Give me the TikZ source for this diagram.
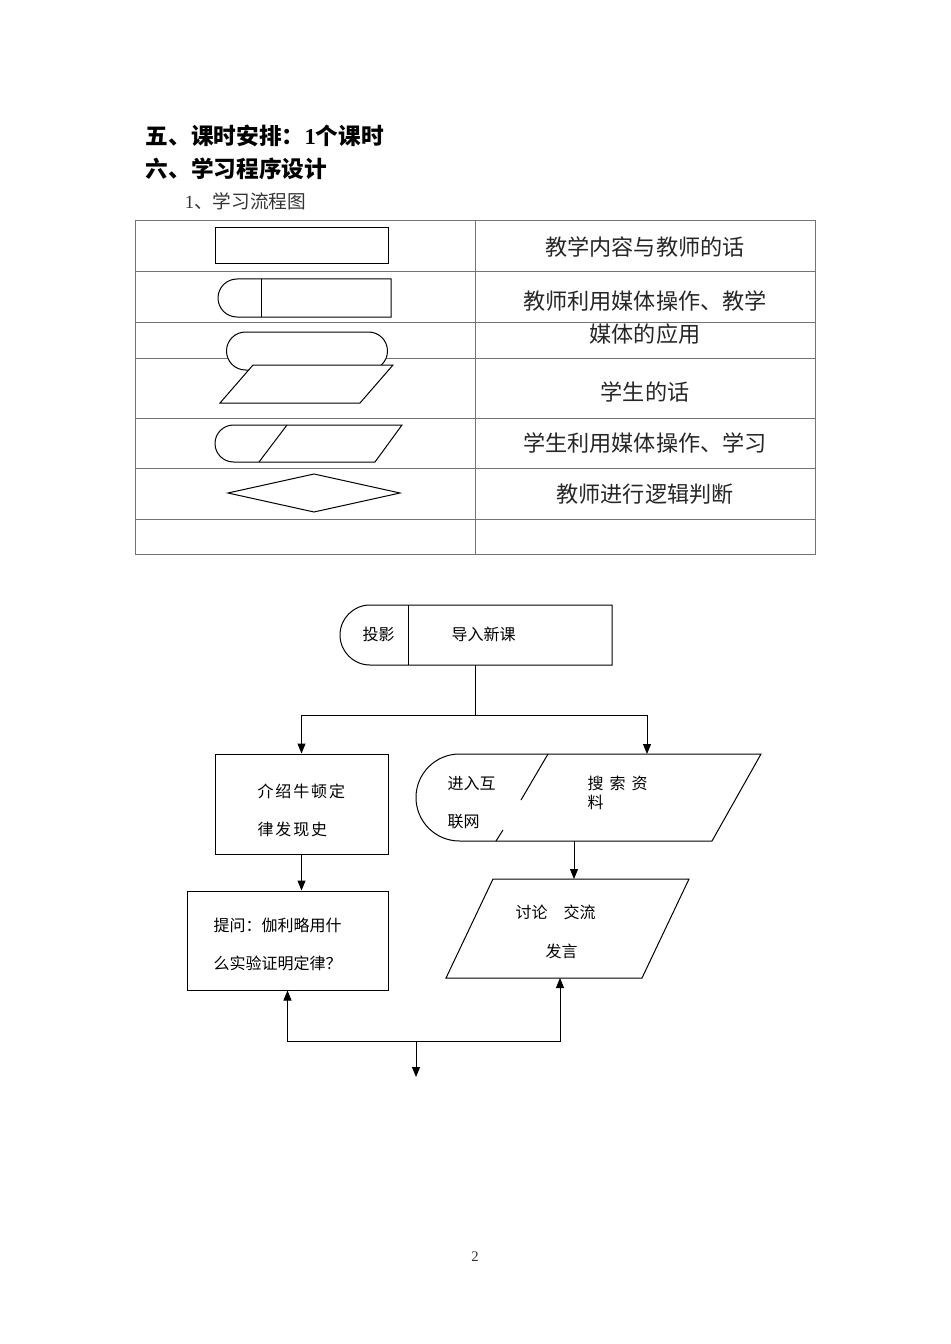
\documentclass[tikz,border=0pt]{standalone}
\usepackage{fontspec}
\setmainfont{Liberation Serif}
\newfontfamily\cjk{Noto Sans CJK SC}
\newfontfamily\cjkwide[LetterSpace=12]{Noto Sans CJK SC}
\usetikzlibrary{arrows.meta}

\begin{document}
\begin{tikzpicture}[x=0.75pt, y=-0.75pt, line width=0.75pt,
  >={Triangle[length=7.5pt, width=6pt]},
  cell/.style={draw=black!55, line width=0.6pt},
  legend/.style={font=\fontsize{16.6}{19}\selectfont\cjk, text=black!85},
  flowtxt/.style={anchor=west, inner sep=0pt, font=\fontsize{12}{14}\selectfont\cjk},
  box/.style={draw, inner sep=0pt}]

\useasboundingbox (0,0) rectangle (950,1344);

% --- Headings ---
\node[anchor=west, font=\fontsize{17}{20}\selectfont\cjk\bfseries] (head5) at (141,136) {五、课时安排：{\rmfamily 1}个课时};
\node[anchor=west, font=\fontsize{17}{20}\selectfont\cjk\bfseries] (head6) at (141,169) {六、学习程序设计};
\node[anchor=west, font=\fontsize{14}{16}\selectfont\cjk, text=black!80] (sub1) at (180,201) {{\rmfamily 1}、学习流程图};

% --- Legend table ---
\draw[cell] (135,220) rectangle (815,554);
\draw[cell] (475,220) -- (475,554);
\foreach \y in {271,322,358,418,468,519}
  \draw[cell] (135,\y) -- (815,\y);

% symbols
\draw (215,228) rectangle (388,264);
\draw (237,279) -- (391,279) -- (391,317) -- (237,317) arc[start angle=270, end angle=90, radius=14.25pt] -- cycle;
\draw (261,279) -- (261,317);
\draw[fill=white] (245.5,332) -- (368.5,332) arc[start angle=90, end angle=-90, radius=14.25pt] -- (245.5,370) arc[start angle=270, end angle=90, radius=14.25pt] -- cycle;
\draw[fill=white] (253,365) -- (393,365) -- (360,403) -- (220,403) -- cycle;
\draw (233.5,425) -- (402,425) -- (375,462) -- (233.5,462) arc[start angle=270, end angle=90, radius=13.875pt] -- cycle;
\draw (287,425) -- (259,462);
\draw (228,493) -- (314,474) -- (400,493) -- (314,512) -- cycle;

% meanings
\node[legend] (leg1) at (645,247) {教学内容与教师的话};
\node[legend] (leg2) at (645,301) {教师利用媒体操作、教学};
\node[legend] (leg2b) at (645,334) {媒体的应用};
\node[legend] (leg4) at (645,392) {学生的话};
\node[legend] (leg5) at (645,443) {学生利用媒体操作、学习};
\node[legend] (leg6) at (645,494) {教师进行逻辑判断};

% --- Flow chart ---
% intro (media + teacher)
\draw (370,605) -- (612,605) -- (612,665) -- (370,665) arc[start angle=270, end angle=90, radius=22.5pt] -- cycle;
\draw (408,605) -- (408,665);
\node[flowtxt] (introL) at (362,634) {投影};
\node[flowtxt] (introR) at (451,634) {导入新课};
\coordinate (intro-s) at (475,665);
\coordinate (fork) at (475,715);

% teacher: Newton
\node[box, minimum width=129.75pt, minimum height=75pt] (law) at (301.5,804) {};
\node[flowtxt, font=\fontsize{12}{14}\selectfont\cjkwide] (lawA) at (257,791) {介绍牛顿定};
\node[flowtxt, font=\fontsize{12}{14}\selectfont\cjkwide] (lawB) at (257,829) {律发现史};

% students: internet search
\draw (459.5,754) -- (761,754) -- (712,841) -- (459.5,841) arc[start angle=270, end angle=90, radius=32.625pt] -- cycle;
\draw (548,754) -- (521,800);
\draw (503,830) -- (496,841);
\node[flowtxt] (netA) at (447,784) {进入互};
\node[flowtxt] (netB) at (447,822) {联网};
\node[flowtxt] (findA) at (587,783) {搜\hspace{4.5pt}索\hspace{4.5pt}资};
\node[flowtxt] (findB) at (587,802) {料};
\coordinate (search-n) at (647,754);
\coordinate (search-s) at (574,841);

% teacher: question
\node[box, minimum width=150.75pt, minimum height=74.25pt] (ask) at (287.5,940.5) {};
\node[flowtxt] (askA) at (213,925) {提问：伽利略用什};
\node[flowtxt] (askB) at (213,963) {么实验证明定律？};

% students: discussion
\draw (493,879) -- (689,879) -- (642,978) -- (446,978) -- cycle;
\node[flowtxt] (talkA) at (515,912) {讨论　交流};
\node[flowtxt] (talkB) at (545,951) {发言};
\coordinate (talk-n) at (574,879);
\coordinate (talk-s) at (560,978);

% connectors
\draw (intro-s) -- (fork);
\draw[->] (fork) -| (law.north);
\draw[->] (fork) -| (search-n);
\draw[->] (law.south) -- (law.south |- ask.north);
\draw[->] (search-s) -- (talk-n);
\coordinate (join) at (416,1041);
\coordinate (out) at (416,1077);
\draw[->] (join) -| (ask.south);
\draw[->] (join) -| (talk-s);
\draw[->] (join) -- (out);

% page number
\node[font=\fontsize{11}{13}\selectfont, text=black!80] (page) at (475,1257) {2};

\end{tikzpicture}
\end{document}
